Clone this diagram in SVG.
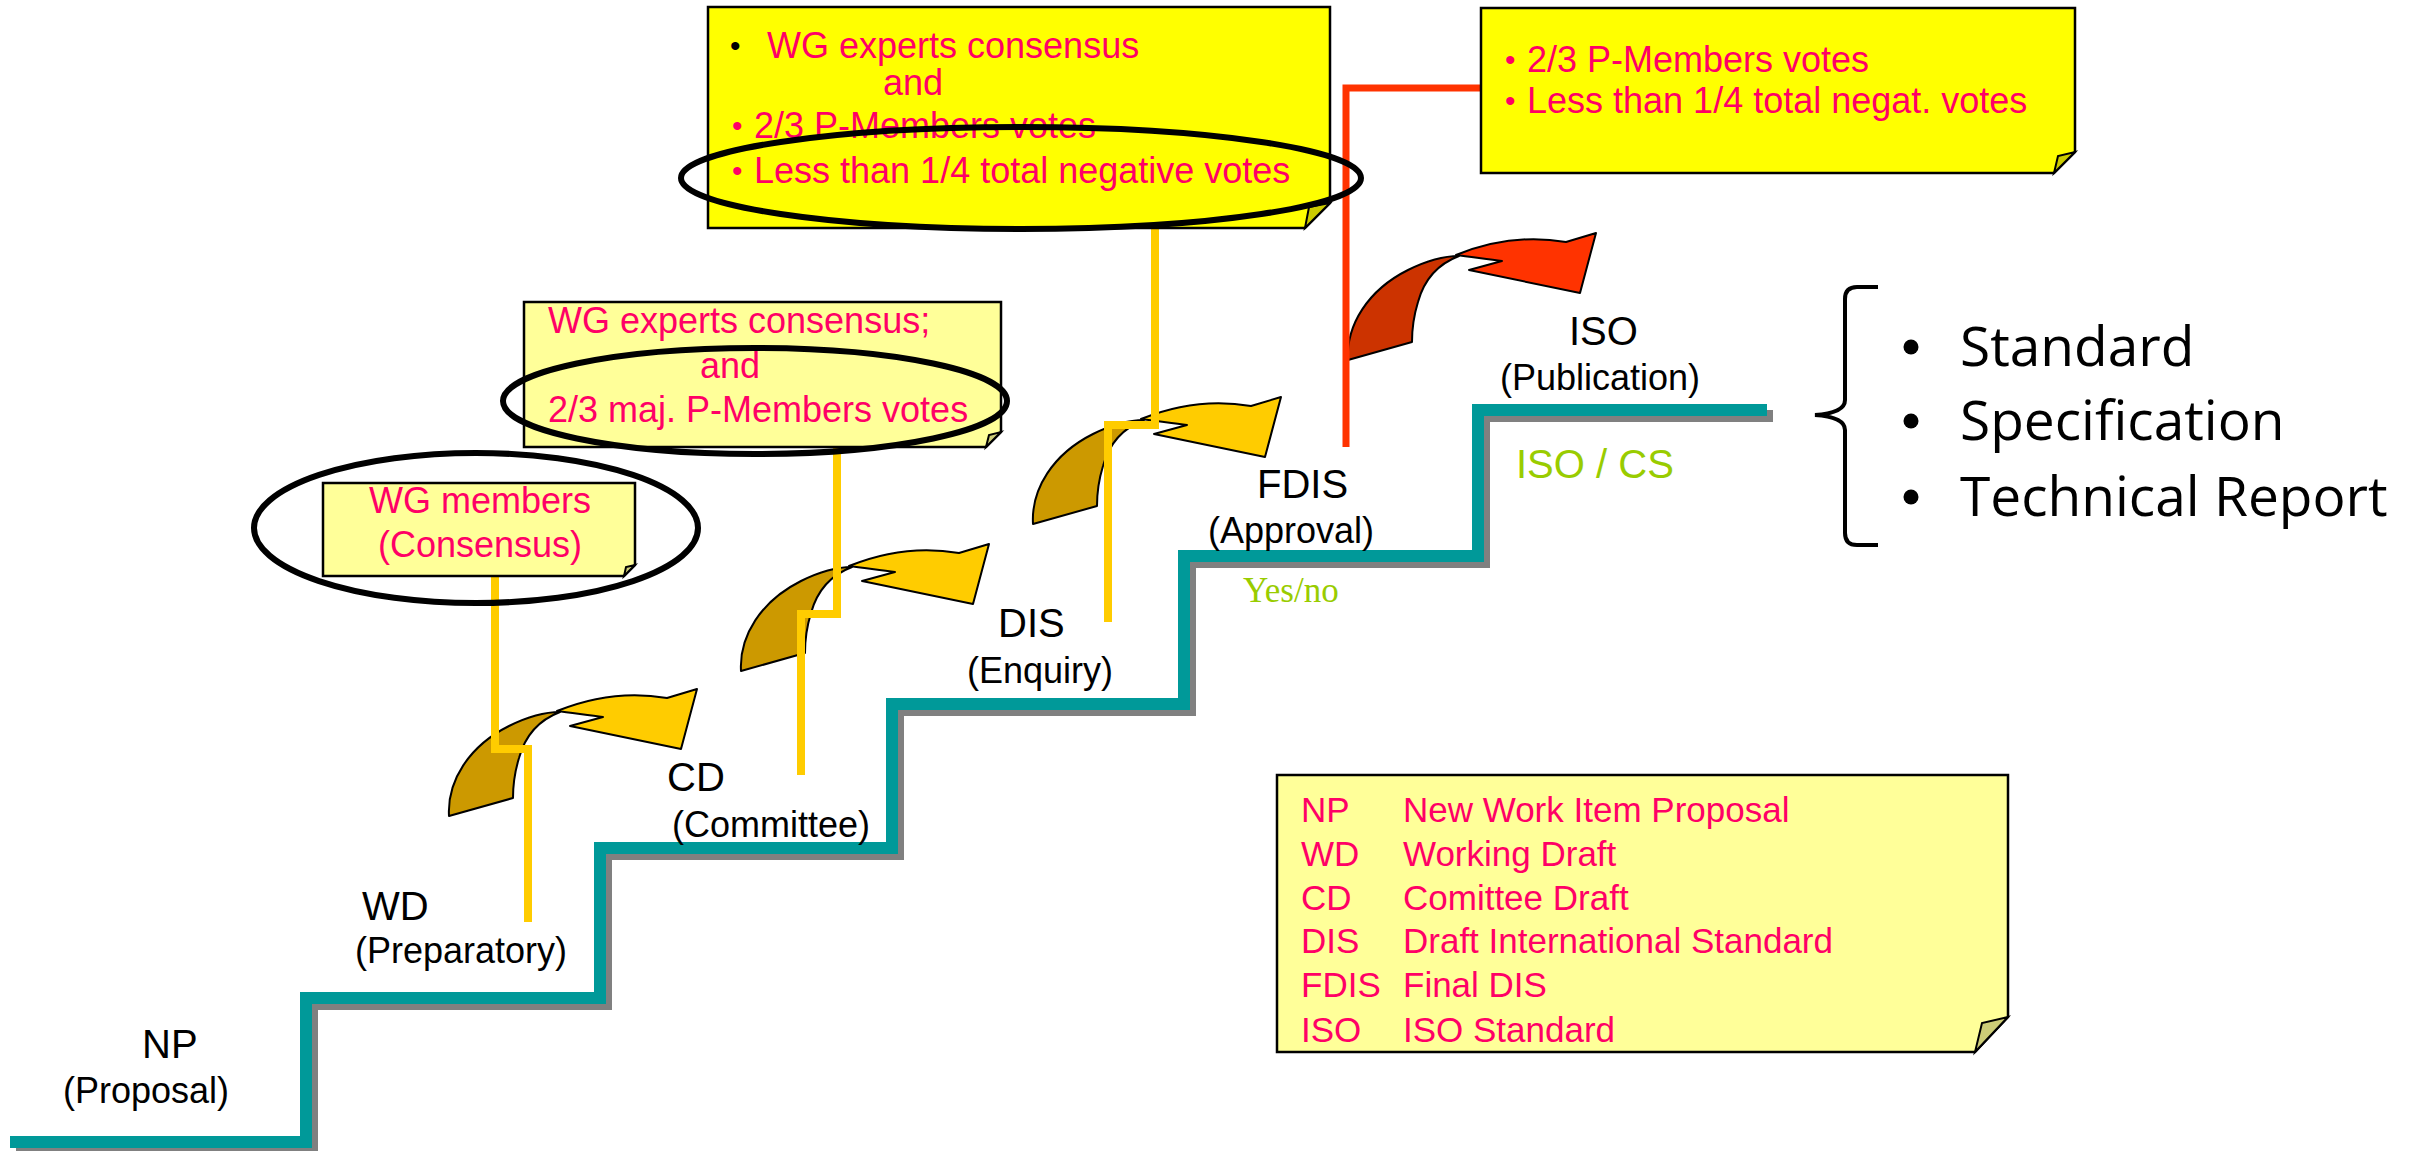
<svg xmlns="http://www.w3.org/2000/svg" xmlns:xlink="http://www.w3.org/1999/xlink" width="2420" height="1151" viewBox="0 0 2420 1151">
<style>
  .note{stroke:#000;stroke-width:2.5}
  .bright{fill:#FFFF00}
  .pale{fill:#FFFF99}
  .flapB{fill:#CCCC00;stroke:#000;stroke-width:2}
  .flapP{fill:#CCCC77;stroke:#000;stroke-width:2}
  .pk{font-family:"Liberation Sans",Arial,sans-serif;font-size:36px;fill:#FF0066}
  .lg{font-family:"Liberation Sans",Arial,sans-serif;font-size:35px;fill:#FF0066}
  .bul{font-family:"Liberation Sans",Arial,sans-serif;font-size:30px;fill:#FF0066}
  .stage{font-family:"Liberation Sans",Arial,sans-serif;font-size:40px;fill:#000}
  .sub{font-family:"Liberation Sans",Arial,sans-serif;font-size:36px;fill:#000}
  .green{fill:#99CC00}
  .ell{fill:none;stroke:#000;stroke-width:6}
  .conY{fill:none;stroke:#FFCC00;stroke-width:8}
  .conR{fill:none;stroke:#FF3300;stroke-width:7}
  .arr{stroke:#000;stroke-width:2;stroke-linejoin:round}
  .dY{fill:#CC9900}
  .lY{fill:#FFCC00}
  .dR{fill:#CC3300}
  .lR{fill:#FF3300}
  .right{font-family:"Open Sans",sans-serif;font-size:55px;fill:#000}
</style>
<defs>
  <path id="arrDark" d="M0,0 C-2,-35 20,-70 60,-90 C80,-100 98,-104 111,-104 C90,-96 76,-80 70,-58 C66,-45 64,-30 64,-18 Z"/>
  <path id="arrLight" d="M108,-105 C140,-118 178,-125 218,-118 L248,-127 L232,-67 L121,-90 L154,-99 C140,-101 122,-103 108,-105 Z"/>
</defs>
<rect width="2420" height="1151" fill="#FFFFFF"/>

<g id="staircase">
  <path d="M16,1148 H312 V1004 H606 V854 H898 V710 H1190 V562 H1484 V416 H1773" fill="none" stroke="#808080" stroke-width="12"/>
  <path d="M10,1142 H306 V998 H600 V848 H892 V704 H1184 V556 H1478 V410 H1767" fill="none" stroke="#009999" stroke-width="12"/>
</g>

<g id="arrows">
  <g id="arrow-wd-cd" transform="translate(449,816)">
    <use xlink:href="#arrDark" class="arr dY"/>
    <use xlink:href="#arrLight" class="arr lY"/>
  </g>
  <g id="arrow-cd-dis" transform="translate(741,671)">
    <use xlink:href="#arrDark" class="arr dY"/>
    <use xlink:href="#arrLight" class="arr lY"/>
  </g>
  <g id="arrow-dis-fdis" transform="translate(1033,524)">
    <use xlink:href="#arrDark" class="arr dY"/>
    <use xlink:href="#arrLight" class="arr lY"/>
  </g>
  <g id="arrow-fdis-iso" transform="translate(1348,360)">
    <use xlink:href="#arrDark" class="arr dR"/>
    <use xlink:href="#arrLight" class="arr lR"/>
  </g>
</g>

<g id="connectors">
  <path class="conY" d="M495,576 V749 H528 V922"/>
  <path class="conY" d="M837,447 V614 H801 V775"/>
  <path class="conY" d="M1155,228 V425 H1108 V622"/>
  <path class="conR" d="M1482,88 H1346 V447"/>
</g>

<g id="note-dis">
  <path class="note bright" d="M708,7 H1330 V203 L1305,228 H708 Z"/>
  <path class="flapB" d="M1305,228 L1330,203 L1309,207 Z"/>
  <text class="bul" x="730" y="56" style="fill:#000">•</text>
  <text class="pk" x="767" y="58">WG experts consensus</text>
  <text class="pk" x="883" y="95">and</text>
  <text class="bul" x="732" y="136">•</text>
  <text class="pk" x="754" y="138">2/3 P-Members votes</text>
  <text class="bul" x="732" y="181">•</text>
  <text class="pk" x="754" y="183">Less than 1/4 total negative votes</text>
</g>

<g id="note-fdis">
  <path class="note bright" d="M1481,8 H2075 V152 L2054,173 H1481 Z"/>
  <path class="flapB" d="M2054,173 L2075,152 L2058,156 Z"/>
  <text class="bul" x="1505" y="70">•</text>
  <text class="pk" x="1527" y="72">2/3 P-Members votes</text>
  <text class="bul" x="1505" y="111">•</text>
  <text class="pk" x="1527" y="113">Less than 1/4 total negat. votes</text>
</g>

<g id="note-cd">
  <path class="note pale" d="M524,302 H1001 V432 L986,447 H524 Z"/>
  <path class="flapP" d="M986,447 L1001,432 L989,435 Z"/>
  <text class="pk" x="548" y="333">WG experts consensus;</text>
  <text class="pk" x="700" y="378">and</text>
  <text class="pk" x="548" y="422">2/3 maj. P-Members votes</text>
</g>

<g id="note-wd">
  <path class="note pale" d="M323,483 H635 V565 L624,576 H323 Z"/>
  <path class="flapP" d="M624,576 L635,565 L626,567 Z"/>
  <text class="pk" x="480" y="513" text-anchor="middle">WG members</text>
  <text class="pk" x="480" y="557" text-anchor="middle">(Consensus)</text>
</g>

<g id="highlights">
  <ellipse class="ell" cx="1021" cy="178" rx="340" ry="51"/>
  <ellipse class="ell" cx="755" cy="401" rx="252" ry="53"/>
  <ellipse class="ell" cx="476" cy="528" rx="222" ry="75"/>
</g>

<g id="stage-np">
  <text class="stage" x="142" y="1058">NP</text>
  <text class="sub" x="63" y="1103">(Proposal)</text>
</g>
<g id="stage-wd">
  <text class="stage" x="362" y="920">WD</text>
  <text class="sub" x="355" y="963">(Preparatory)</text>
</g>
<g id="stage-cd">
  <text class="stage" x="667" y="791">CD</text>
  <text class="sub" x="672" y="837">(Committee)</text>
</g>
<g id="stage-dis">
  <text class="stage" x="998" y="637">DIS</text>
  <text class="sub" x="967" y="683">(Enquiry)</text>
</g>
<g id="stage-fdis">
  <text class="stage" x="1257" y="498">FDIS</text>
  <text class="sub" x="1208" y="543">(Approval)</text>
  <text x="1243" y="602" class="green" style="font-family:'Liberation Serif','Times New Roman',serif;font-size:35px">Yes/no</text>
</g>
<g id="stage-iso">
  <text class="stage" x="1569" y="345">ISO</text>
  <text class="sub" x="1500" y="390">(Publication)</text>
  <text x="1516" y="478" class="green" style="font-family:'Liberation Sans',Arial,sans-serif;font-size:40px">ISO / CS</text>
</g>

<g id="deliverables">
  <path d="M1878,287 H1857 Q1845,287 1845,299 V400 Q1845,413 1815,415 Q1845,417 1845,430 V533 Q1845,545 1857,545 H1878" fill="none" stroke="#000" stroke-width="4"/>
  <circle cx="1911" cy="347" r="7.5" fill="#000"/>
  <text class="right" x="1960" y="366">Standard</text>
  <circle cx="1911" cy="421" r="7.5" fill="#000"/>
  <text class="right" x="1960" y="440">Specification</text>
  <circle cx="1911" cy="497" r="7.5" fill="#000"/>
  <text class="right" x="1960" y="516">Technical Report</text>
</g>

<g id="legend">
  <path class="note pale" d="M1277,775 H2008 V1017 L1975,1052 H1277 Z"/>
  <path class="flapP" d="M1975,1052 L2008,1017 L1982,1023 Z"/>
  <text class="lg" x="1301" y="822">NP</text><text class="lg" x="1403" y="822">New Work Item Proposal</text>
  <text class="lg" x="1301" y="866">WD</text><text class="lg" x="1403" y="866">Working Draft</text>
  <text class="lg" x="1301" y="910">CD</text><text class="lg" x="1403" y="910">Comittee Draft</text>
  <text class="lg" x="1301" y="953">DIS</text><text class="lg" x="1403" y="953">Draft International Standard</text>
  <text class="lg" x="1301" y="997">FDIS</text><text class="lg" x="1403" y="997">Final DIS</text>
  <text class="lg" x="1301" y="1042">ISO</text><text class="lg" x="1403" y="1042">ISO Standard</text>
</g>
</svg>
